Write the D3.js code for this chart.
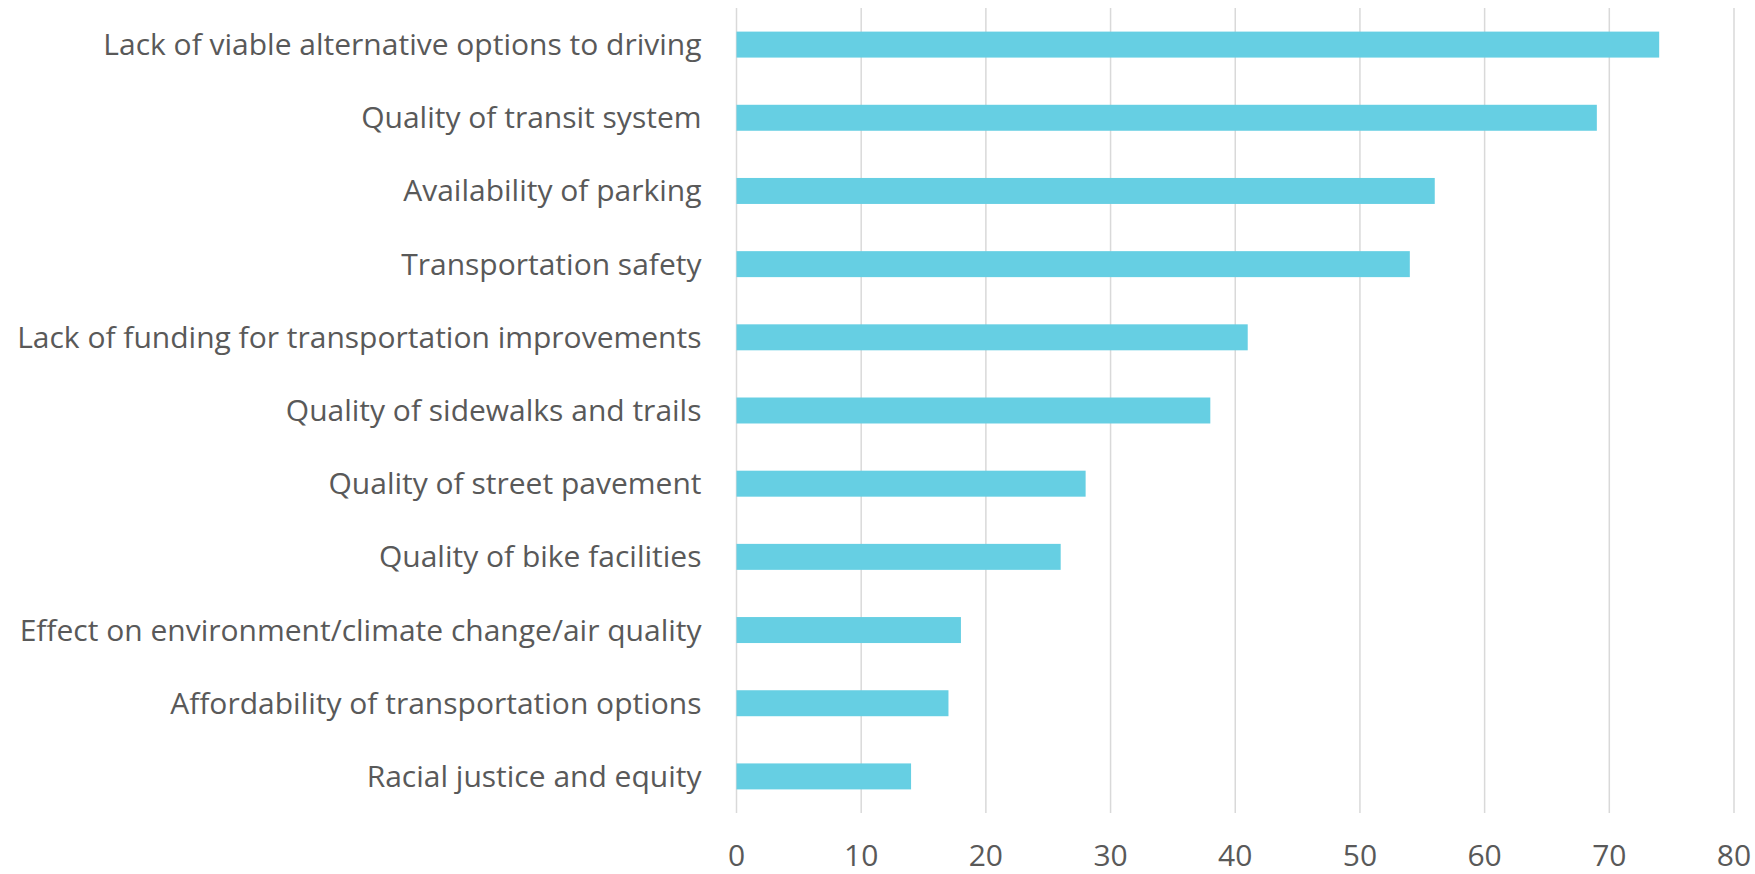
<!DOCTYPE html>
<html>
<head>
<meta charset="utf-8">
<script src="https://cdn.jsdelivr.net/npm/d3@7"></script>
<style>
  body { margin: 0; background: #fff; }
  text { font-family: "Open Sans", "Noto Sans", sans-serif; fill: #595959; }
</style>
</head>
<body>
<script>
'use strict';

// categories, top to bottom
const categories = [
  "Lack of viable alternative options to driving",
  "Quality of transit system",
  "Availability of parking",
  "Transportation safety",
  "Lack of funding for transportation improvements",
  "Quality of sidewalks and trails",
  "Quality of street pavement",
  "Quality of bike facilities",
  "Effect on environment/climate change/air quality",
  "Affordability of transportation options",
  "Racial justice and equity"
];
const values = [74, 69, 56, 54, 41, 38, 28, 26, 18, 17, 14];
const xTicks = [0, 10, 20, 30, 40, 50, 60, 70, 80];

(function() {
  const width = 1755, height = 874;
  const left = 736.5, right = 1734, top = 8, bottom = 813;

  const svg = d3.select('body')
    .append('svg')
    .attr('width', width)
    .attr('height', height);

  let x = d3.scaleLinear().domain([0, 80]).range([left, right]);
  let y = d3.scaleBand().domain(categories).range([top, bottom])
    .paddingInner(0.645).paddingOuter(0.3225);

  // vertical gridlines
  svg.append('g')
    .selectAll('line')
    .data(xTicks)
    .enter()
    .append('line')
      .attr('x1', d => x(d)).attr('x2', d => x(d))
      .attr('y1', top).attr('y2', bottom)
      .attr('stroke', '#d9d9d9')
      .attr('stroke-width', 1.5);

  // bars
  svg.append('g')
    .selectAll('rect')
    .data(values)
    .enter()
    .append('rect')
      .attr('x', x(0))
      .attr('y', (d, i) => y(categories[i]))
      .attr('width', d => x(d) - x(0))
      .attr('height', y.bandwidth())
      .attr('fill', '#66cfe3');

  // category labels
  svg.append('g')
    .selectAll('text')
    .data(categories)
    .enter()
    .append('text')
      .attr('x', left - 35)
      .attr('y', d => y(d) + y.bandwidth() / 2)
      .attr('dy', '0.35em')
      .attr('text-anchor', 'end')
      .style('font-size', '30px')
      .text(d => d);

  // x tick labels
  svg.append('g')
    .selectAll('text')
    .data(xTicks)
    .enter()
    .append('text')
      .attr('x', d => x(d))
      .attr('y', 866)
      .attr('text-anchor', 'middle')
      .style('font-size', '30px')
      .text(d => d);
})();
</script>
</body>
</html>
